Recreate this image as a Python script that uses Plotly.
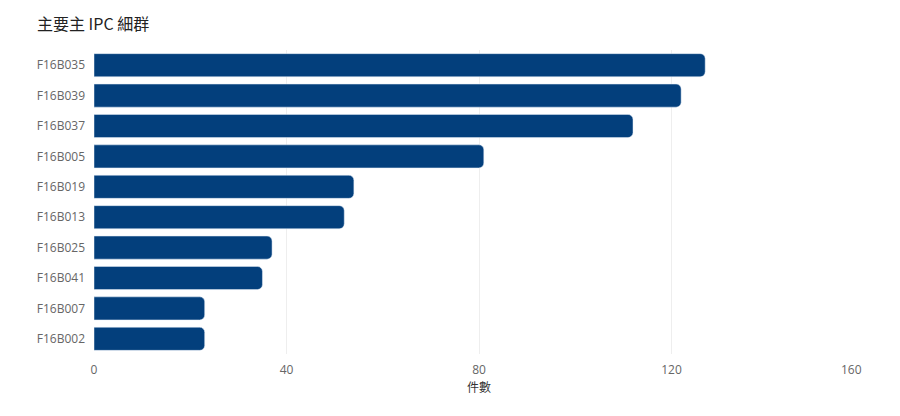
import plotly.graph_objects as go

# top 10 main IPC subgroups, largest first
codes = ["F16B035", "F16B039", "F16B037", "F16B005", "F16B019",
         "F16B013", "F16B025", "F16B041", "F16B007", "F16B002"]
counts = [127, 122, 112, 81, 54, 52, 37, 35, 23, 23]

x_ticks = [0, 40, 80, 120, 160]

bar_color = "#033f7c"

# the page body adds an 8px offset, so figure coords are shifted by -8
fig = go.Figure()
fig.add_trace(
    go.Bar(
        x=counts,
        y=codes,
        orientation="h",
        marker=dict(color=bar_color, cornerradius=5),
        hovertemplate="%{y}: %{x}<extra></extra>",
    )
)

# last tick label sits inside the axis end, so draw it as an annotation
tick_text = [str(t) for t in x_ticks[:-1]] + [""]
fig.add_annotation(
    x=x_ticks[-1], xref="x", xanchor="right",
    y=0, yref="paper", yanchor="middle", yshift=-15,
    text=str(x_ticks[-1]), showarrow=False,
    font=dict(size=12, color="#666"),
)

fig.update_layout(
    width=900,
    height=416,
    margin=dict(l=86, r=44, t=42, b=70),
    paper_bgcolor="white",
    plot_bgcolor="white",
    font=dict(family="Open Sans, Noto Sans CJK TC, sans-serif", color="#666", size=12),
    title=dict(
        text="主要主 IPC 細群",
        x=29 / 900,
        xanchor="left",
        y=1 - 16 / 416,
        yanchor="middle",
        font=dict(size=16, color="#222", family="Noto Sans CJK TC, Open Sans, sans-serif"),
    ),
    bargap=0.24,
    showlegend=False,
)

fig.update_xaxes(
    range=[0, 160],
    tickvals=x_ticks,
    ticktext=tick_text,
    showgrid=True,
    gridcolor="#eeeeee",
    zeroline=False,
    showline=False,
    ticks="",
    ticklabelstandoff=7,
    title=dict(text="件數", font=dict(size=12, color="#333"), standoff=6),
)
fig.update_yaxes(
    categoryorder="array",
    categoryarray=codes[::-1],
    showgrid=False,
    zeroline=False,
    showline=False,
    ticks="",
    ticklabelstandoff=8,
)

fig.write_html("out.html")
